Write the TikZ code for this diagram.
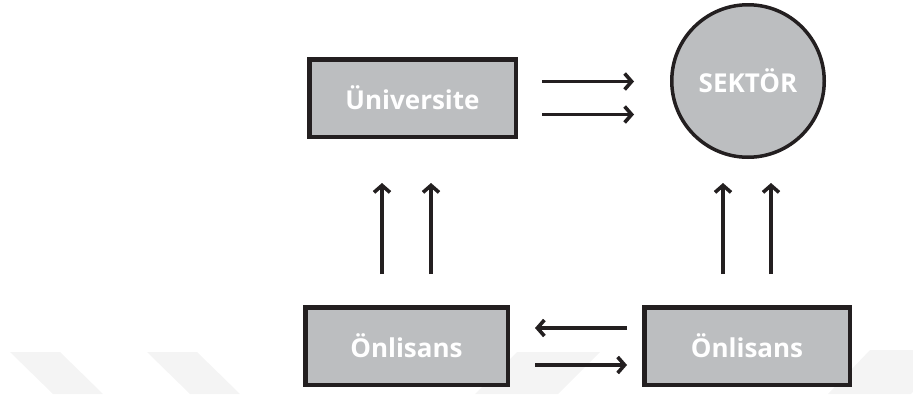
\documentclass[tikz,border=0pt]{standalone}
\usepackage{fontspec}
\setmainfont{Open Sans}
\usepackage{xcolor}
\usetikzlibrary{positioning,arrows.meta}

\definecolor{boxgray}{HTML}{BCBEC0}
\definecolor{edgeblack}{HTML}{231F20}
\definecolor{wmgray}{HTML}{F4F4F4}

\begin{document}
\begin{tikzpicture}[x=1pt, y=-1pt,
    box/.style={draw=edgeblack, line width=4.5pt, fill=boxgray, inner sep=0pt,
        minimum width=206.5pt, minimum height=77.5pt,
        text=white, font=\fontsize{26}{30}\selectfont\bfseries},
    ring/.style={circle, draw=edgeblack, line width=3.5pt, fill=boxgray, inner sep=0pt,
        minimum size=152.5pt, text=white, font=\fontsize{26}{30}\selectfont\bfseries},
    arr/.style={draw=edgeblack, line width=3.6pt,
        -{Straight Barb[length=7pt, width=16pt, line width=3.6pt, line join=miter]}}]
    \useasboundingbox (0,0) rectangle (913,394);

    % Watermark
    \fill[wmgray] (10,352) -- (60,352) -- (103,394) -- (53,394) -- cycle;
    \fill[wmgray] (147,352) -- (197,352) -- (240,394) -- (190,394) -- cycle;
    \fill[wmgray] (517,352) -- (600,352) -- (558,394) -- (475,394) -- cycle;
    \fill[wmgray] (870,350) -- (953,350) -- (911,394) -- (828,394) -- cycle;

    % Nodes
    \node[box] (uni) at (412.5,98) {Üniversite};
    \node[ring] (sektor) at (748,81) {SEKTÖR};
    \node[box, minimum width=202.5pt] (onlA) at (406.5,346) {Önlisans};
    \node[box, minimum width=205.5pt] (onlB) at (747,346) {Önlisans};

    % Arrows
    \foreach \s in {16.5,-16.5}
        \draw[arr, shorten <=24pt, shorten >=36pt] ([yshift=\s pt]uni.east) -- ([yshift=\s pt]uni.east -| sektor.west);
    \foreach \s in {-24.5,24.5}
        \draw[arr, shorten <=31pt, shorten >=44pt] ([xshift=\s pt]onlA.north) -- ([xshift=\s pt]onlA.north |- uni.south);
    \foreach \s in {-24,24}
        \draw[arr, shorten <=31pt, shorten >=24pt] ([xshift=\s pt]onlB.north) -- ([xshift=\s pt]onlB.north |- sektor.south);
    \draw[arr, shorten <=15pt, shorten >=25pt] ([yshift=18pt]onlB.west) -- ([yshift=18pt]onlB.west -| onlA.east);
    \draw[arr, shorten <=25pt, shorten >=15pt] ([yshift=-19pt]onlA.east) -- ([yshift=-19pt]onlA.east -| onlB.west);
\end{tikzpicture}
\end{document}
